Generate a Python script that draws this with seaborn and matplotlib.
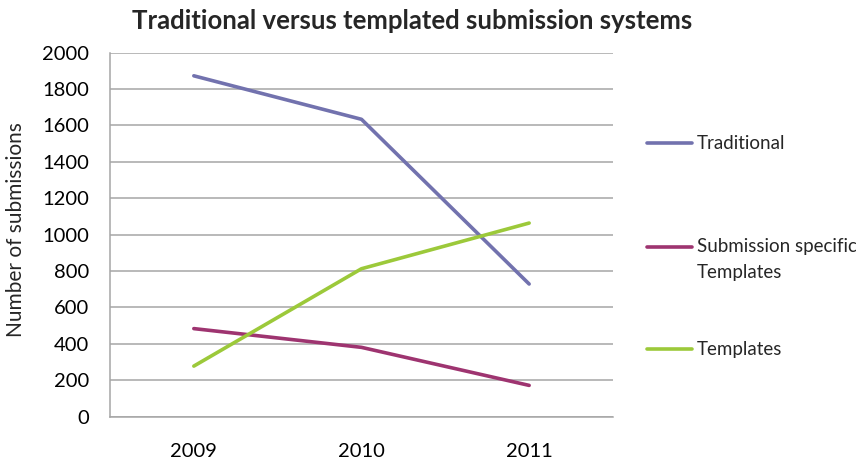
import matplotlib
matplotlib.use('Agg')
import matplotlib.pyplot as plt
from matplotlib.lines import Line2D
from matplotlib.ticker import FixedLocator
import pandas as pd
import seaborn as sns

# datos
years = ['2009', '2010', '2011']
traditional = [1873, 1634, 729]
submission_specific = [484, 381, 172]
templates = [278, 813, 1064]
series_names = ['Traditional', 'Submission specific\nTemplates', 'Templates']
series_colors = ['#7272AE', '#9E3470', '#9CC93A']

df = pd.DataFrame({
    'year': years * 3,
    'value': traditional + submission_specific + templates,
    'serie': [series_names[0]] * 3 + [series_names[1]] * 3 + [series_names[2]] * 3,
})

sns.set_style('white')
plt.rcParams['font.family'] = ['Lato', 'DejaVu Sans']

fig = plt.figure(figsize=(8.56, 4.61), dpi=100)
ax = fig.add_axes([0.1285, 0.0961, 0.5876, 0.7896])

sns.lineplot(data=df, x='year', y='value', hue='serie', palette=series_colors,
             linewidth=2.6, ax=ax, legend=False, sort=False)

grid_gray = '#A6A6A6'
ax.set_xlim(-0.5, 2.5)
ax.set_ylim(0, 2000)
ax.set_yticks(range(0, 2001, 200))
ax.yaxis.grid(True, color=grid_gray, linewidth=1.1)
ax.set_axisbelow(True)
for s in ['top', 'right']:
    ax.spines[s].set_visible(False)
for s in ['left', 'bottom']:
    ax.spines[s].set_color(grid_gray)
    ax.spines[s].set_linewidth(1.1)

ax.tick_params(axis='y', length=5, color=grid_gray, width=1.1, labelsize=14.5,
               pad=10, labelcolor='black')
ax.tick_params(axis='x', which='major', length=0, labelsize=14.5, pad=19,
               labelcolor='black')
ax.xaxis.set_minor_locator(FixedLocator([-0.5, 0.5, 1.5, 2.5]))
ax.tick_params(axis='x', which='minor', length=7, color=grid_gray, width=1.1)

ax.set_xlabel('')
ax.set_ylabel('')
fig.text(16 / 856, 1 - 230 / 461, 'Number of submissions', rotation=90,
         ha='center', va='center', fontsize=15)
fig.text(0.481, 0.955, 'Traditional versus templated submission systems',
         ha='center', va='center', fontsize=18.5, fontweight='bold')

# leyenda manual a la derecha
leg_y = [143, 246.5, 349]
for nombre, color, yy in zip(series_names, series_colors, leg_y):
    yf = 1 - yy / 461
    fig.add_artist(Line2D([647 / 856, 692 / 856], [yf, yf], color=color,
                          linewidth=2.6, transform=fig.transFigure))
    fig.text(697 / 856, yf, nombre.split('\n')[0], ha='left', va='center', fontsize=13.5)
    if '\n' in nombre:
        fig.text(697 / 856, yf - 26 / 461, nombre.split('\n')[1], ha='left',
                 va='center', fontsize=13.5)

plt.savefig('out.png', dpi=100)
plt.close()
